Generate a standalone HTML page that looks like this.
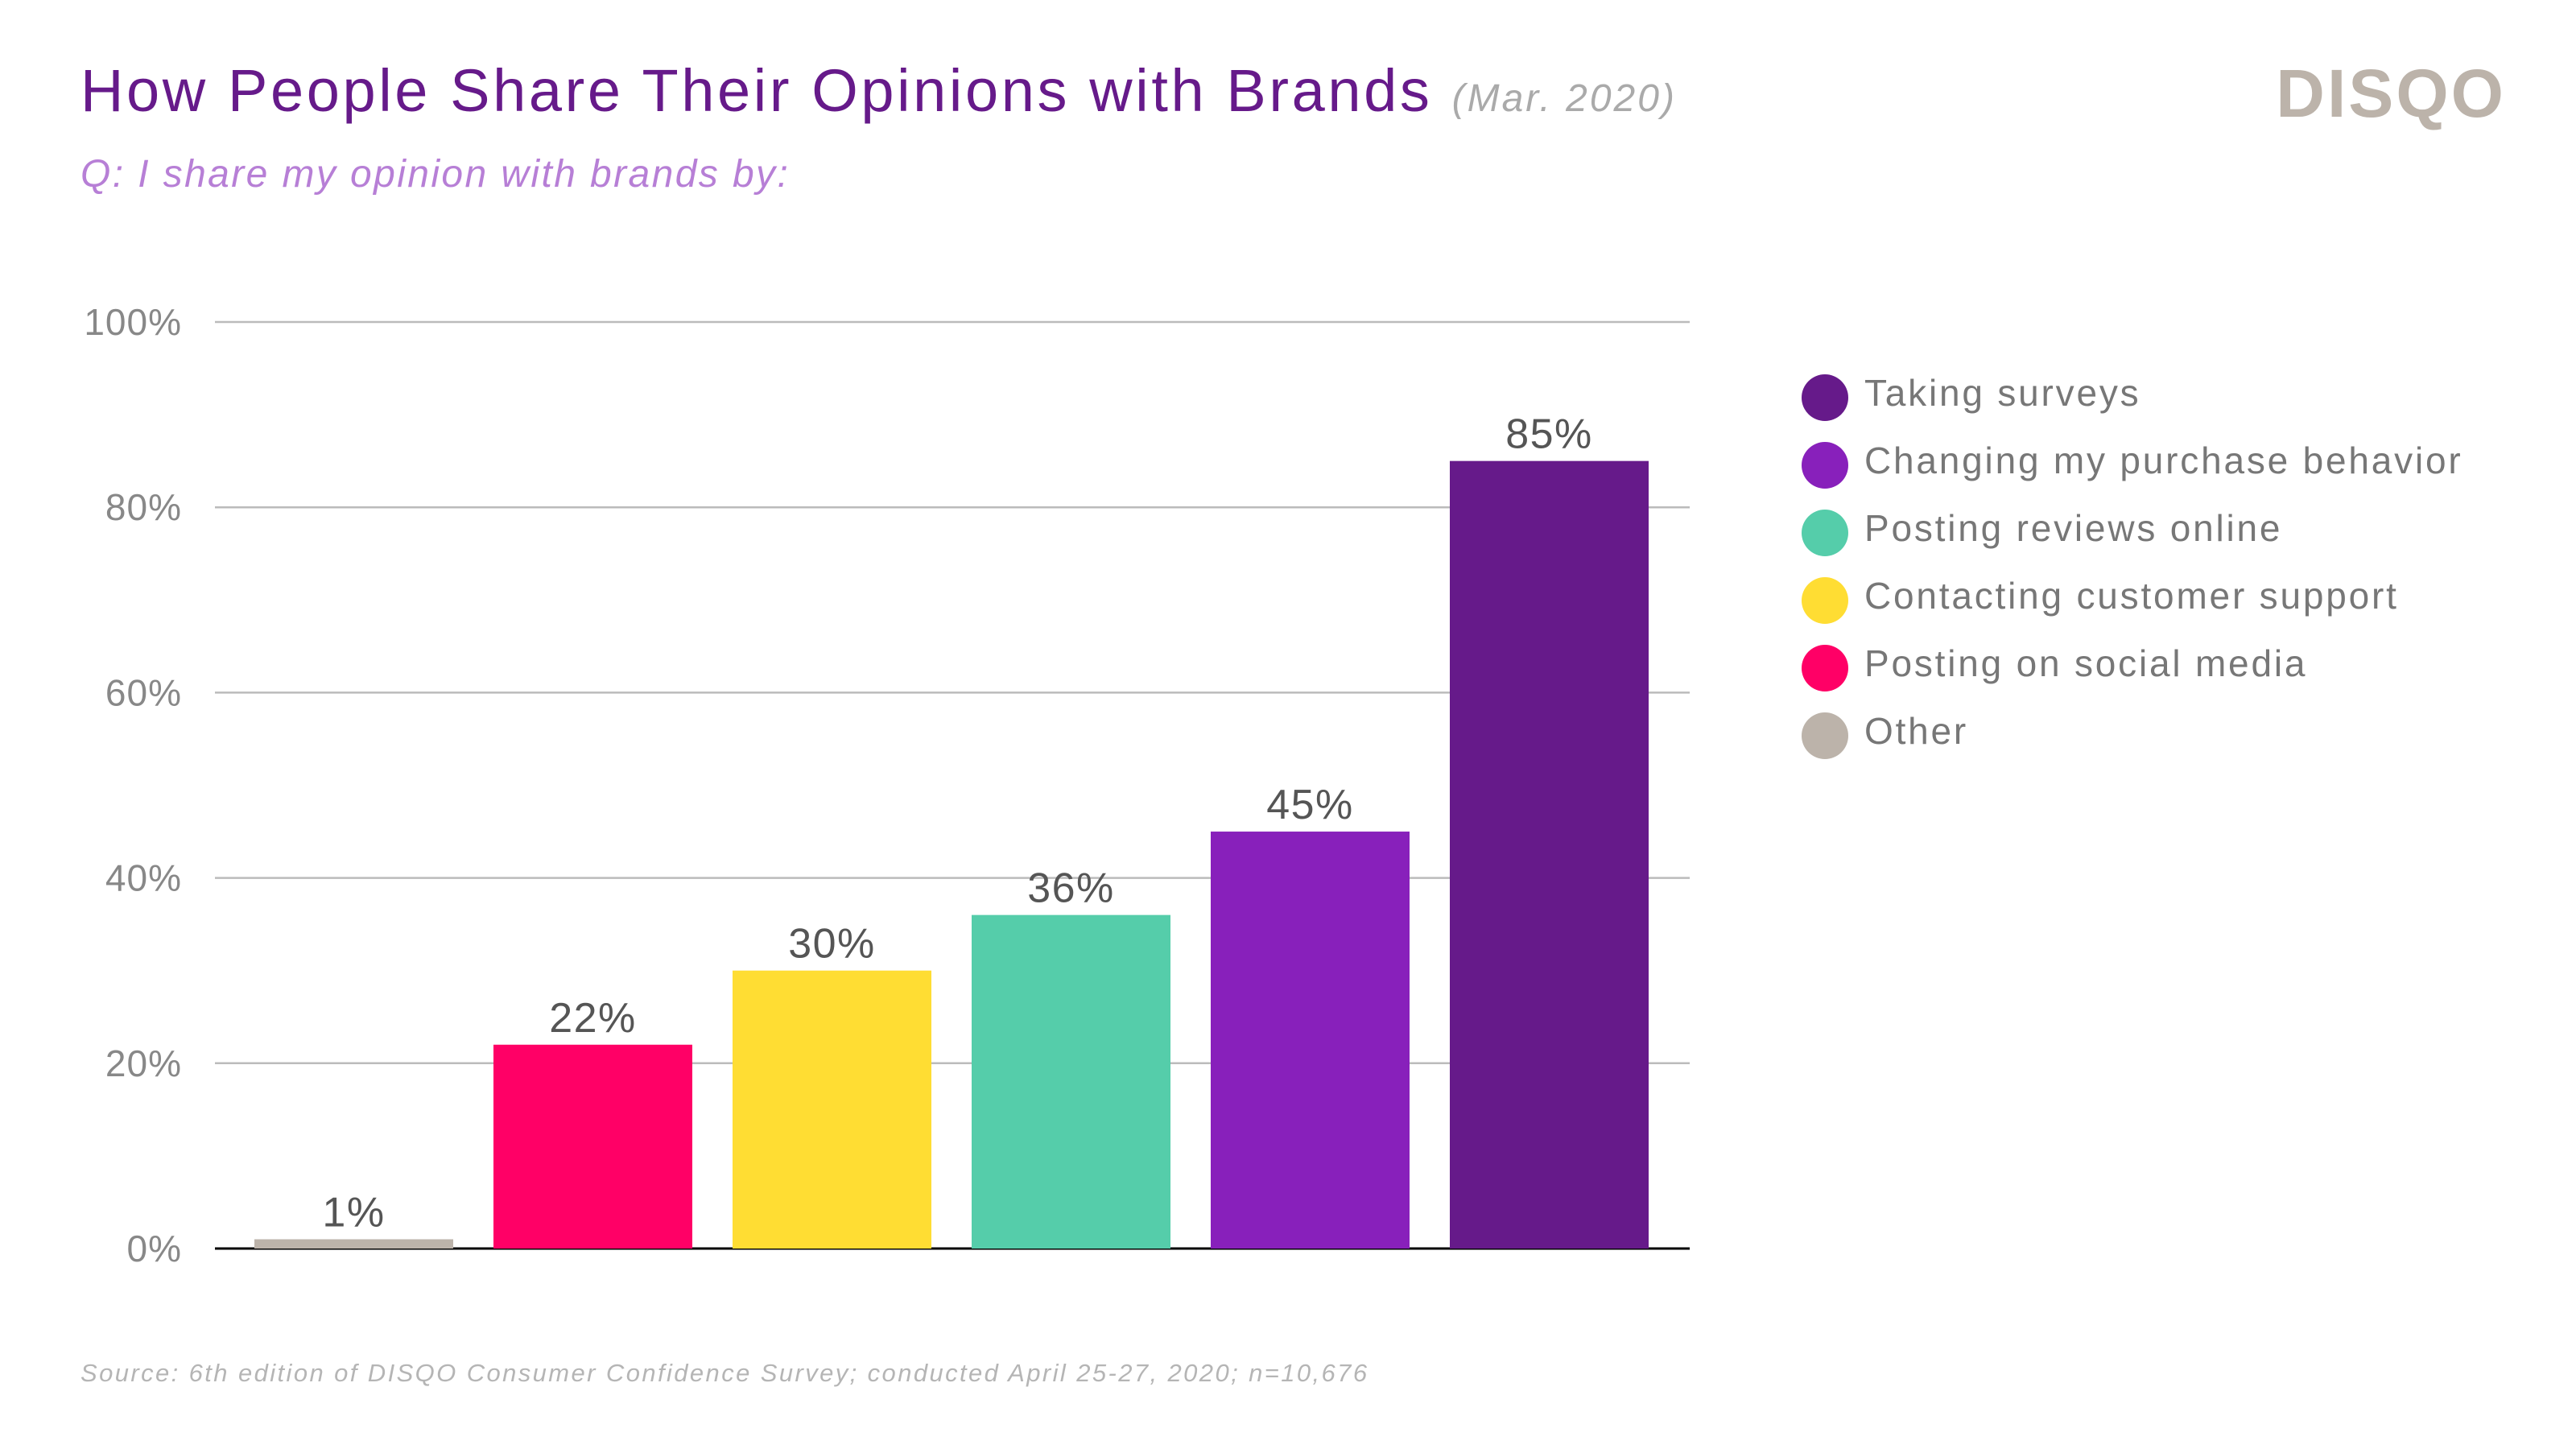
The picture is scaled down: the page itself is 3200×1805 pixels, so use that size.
<!DOCTYPE html>
<html><head><meta charset="utf-8"><style>
body{margin:0;width:3200px;height:1800px;background:#fff;overflow:hidden;font-family:"Liberation Sans",sans-serif;}
svg text{font-family:"Liberation Sans",sans-serif;}
</style></head><body>
<svg id="chart" width="3200" height="1800" viewBox="0 0 3200 1800">
<text x="100" y="138" font-size="74" fill="#661a8a" letter-spacing="3.6">How People Share Their Opinions with Brands <tspan font-size="48" font-style="italic" fill="#aaa" letter-spacing="3">(Mar. 2020)</tspan></text>
<text x="100" y="232" font-size="48" font-style="italic" fill="#b77fd6" letter-spacing="2.4">Q: I share my opinion with brands by:</text>
<text x="3113" y="145" font-size="84" font-weight="bold" text-anchor="end" fill="#bcb3aa" letter-spacing="3">DISQO</text>
<g id="grid"></g><g id="bars"></g><g id="legend"></g>
<text x="100" y="1716" font-size="31" font-style="italic" fill="#b5b5b5" letter-spacing="2.4">Source: 6th edition of DISQO Consumer Confidence Survey; conducted April 25-27, 2020; n=10,676</text>
</svg>
<script>
const categories=["Other","Posting on social media","Contacting customer support","Posting reviews online","Changing my purchase behavior","Taking surveys"];
const values=[1,22,30,36,45,85];
const labels=["1%","22%","30%","36%","45%","85%"];
const colors=["#bcb3aa","#ff0066","#ffdd33","#55cdaa","#8820bb","#661a8a"];
const ticks=[0,20,40,60,80,100];
const NS="http://www.w3.org/2000/svg";
const x0=267,x1=2099,y0=1551,y1=400;
const yS=v=>y0-(v/100)*(y0-y1);
const firstBar=316, step=297, bw=247;
const xS=i=>firstBar+step*i;
function mk(t,a,p){const e=document.createElementNS(NS,t);for(const k in a)e.setAttribute(k,a[k]);p.appendChild(e);return e;}
const g=document.getElementById('grid');
ticks.forEach(t=>{
 const l=mk('line',{x1:x0,x2:x1,y1:yS(t),y2:yS(t),stroke:t===0?'#000':'#bbb','stroke-width':t===0?3:2.5},g);
 
 
 const tx=mk('text',{x:226,y:yS(t)+16,'font-size':46,'text-anchor':'end',fill:'#888','letter-spacing':1},g);
 tx.textContent=t+'%';
 
 
});
const b=document.getElementById('bars');
values.forEach((v,i)=>{
 const r=mk('rect',{x:xS(i),y:yS(v),width:bw,height:y0-yS(v),fill:colors[i]},b);
 
 
 const t=mk('text',{x:xS(i)+bw/2,y:yS(v)-16,'font-size':52,'text-anchor':'middle',fill:'#555','letter-spacing':1.5},b);
 t.textContent=labels[i];
 
 
});
const lg=document.getElementById('legend');
for(let j=0;j<categories.length;j++){
 const i=categories.length-1-j, y=494+j*84;
 const c=mk('circle',{cx:2267,cy:y,r:29,fill:colors[i]},lg);
 
 
 const t=mk('text',{x:2316,y:y+10,'font-size':46,fill:'#777','letter-spacing':2.8},lg);
 t.textContent=categories[i];
 
 
}
</script>
</body></html>
